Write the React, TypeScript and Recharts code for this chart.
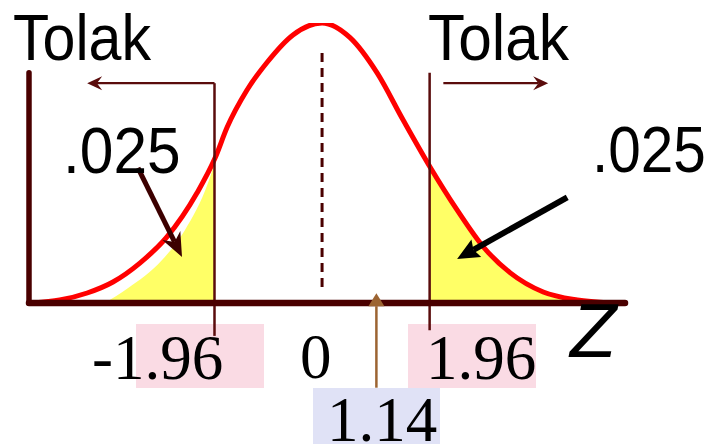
import React from 'react';
import { ComposedChart, Line, Area, XAxis, YAxis, ReferenceLine } from 'recharts';

// ---- data ----
const curveZ = [-5.27, -4.78, -4.28, -3.81, -3.32, -2.83, -2.28, -1.95, -1.73, -1.37, -1.0, -0.53, 0, 0.51, 1.0, 1.48, 1.97, 2.46, 2.94, 3.43, 4.03, 4.65, 5.25];
const curveDensity = [0, 0.0043, 0.0143, 0.03, 0.057, 0.094, 0.157, 0.207, 0.251, 0.304, 0.344, 0.383, 0.4, 0.379, 0.329, 0.261, 0.194, 0.133, 0.08, 0.043, 0.0157, 0.0043, 0];
const leftTailZ = [-3.96, -3.54, -2.92, -2.5, -2.08, -1.96];
const leftTailDensity = [0, 0.021, 0.061, 0.104, 0.171, 0.199];
const rightTailZ = [1.96, 2.46, 2.94, 3.43, 4.03, 4.65, 5.25];
const rightTailDensity = [0.195, 0.133, 0.08, 0.043, 0.0157, 0.0043, 0];
const criticalValues = [-1.96, 1.96];
const criticalLabels = ['-1.96', '1.96'];
const centerLabel = '0';
const testStatisticLabel = '1.14';
const testStatisticDrawnAt = 0.99;
const tailAreaLabel = '.025';
const rejectLabel = 'Tolak';
const axisLabel = 'Z';
const zDomain: [number, number] = [-5.34, 5.52];
const densityDomain: [number, number] = [0, 0.4];

const curveData = curveZ.map((z, i) => ({ z, d: curveDensity[i] }));
const leftTailData = leftTailZ.map((z, i) => ({ z, d: leftTailDensity[i] }));
const rightTailData = rightTailZ.map((z, i) => ({ z, d: rightTailDensity[i] }));

const MAROON = '#4a0000';
const THIN = '#5a0c0c';

type ArrowOpts = { color: string; width: number; headLen: number; headHalf: number; notch: number };
const arrowShape = (o: ArrowOpts) => (props: any) => {
  const { x1, y1, x2, y2 } = props;
  const dx = x2 - x1, dy = y2 - y1;
  const L = Math.hypot(dx, dy) || 1;
  const ux = dx / L, uy = dy / L;
  const px = -uy, py = ux;
  const bx = x2 - ux * o.headLen, by = y2 - uy * o.headLen;
  const nx = x2 - ux * o.headLen * (1 - o.notch), ny = y2 - uy * o.headLen * (1 - o.notch);
  const d = `M${x2},${y2} L${bx + px * o.headHalf},${by + py * o.headHalf} L${nx},${ny} L${bx - px * o.headHalf},${by - py * o.headHalf} Z`;
  return (
    <g>
      <line x1={x1} y1={y1} x2={nx} y2={ny} stroke={o.color} strokeWidth={o.width} />
      <path d={d} fill={o.color} stroke="none" />
    </g>
  );
};
const plainLine = (color: string, width: number, cap: string, dash?: string) => (props: any) => (
  <line x1={props.x1} y1={props.y1} x2={props.x2} y2={props.y2} stroke={color} strokeWidth={width} strokeLinecap={cap as any} strokeDasharray={dash} />
);

const sans = '"Liberation Sans", Arial, sans-serif';
const serif = '"Liberation Serif", "Times New Roman", serif';

export default function App() {
  return (
    <div style={{ position: 'absolute', left: 0, top: 0, width: 712, height: 444, background: '#fff', overflow: 'hidden' }}>
      <svg width={712} height={444} style={{ position: 'absolute', left: 0, top: 0 }}>
        <rect x={136} y={324} width={128} height={64} fill="#fadbe4" />
        <rect x={408} y={324} width={128} height={64} fill="#fadbe4" />
        <rect x={313} y={388} width={127} height={56} fill="#e0e2f6" />
      </svg>
      <div style={{ position: 'absolute', left: 0, top: 0 }}>
        <ComposedChart width={712} height={444} margin={{ top: 23, right: 87, bottom: 141, left: 29 }}>
          <XAxis type="number" dataKey="z" domain={zDomain} allowDataOverflow hide />
          <YAxis type="number" domain={densityDomain} allowDataOverflow hide />
          <Area data={leftTailData} dataKey="d" type="monotone" stroke="none" fill="#ffff66" fillOpacity={1} isAnimationActive={false} baseValue={0} />
          <Area data={rightTailData} dataKey="d" type="monotone" stroke="none" fill="#ffff66" fillOpacity={1} isAnimationActive={false} baseValue={0} />
          <ReferenceLine segment={[{ x: 0, y: 0.023 }, { x: 0, y: 0.359 }]} ifOverflow="visible" shape={plainLine(MAROON, 3, 'butt', '9 6')} />
          <Line data={curveData} dataKey="d" type="monotone" stroke="#ff0000" strokeWidth={5} dot={false} activeDot={false} isAnimationActive={false} />
          <ReferenceLine segment={[{ x: criticalValues[0], y: -0.047 }, { x: criticalValues[0], y: 0.314 }]} ifOverflow="visible" shape={plainLine(THIN, 2.5, 'butt')} />
          <ReferenceLine segment={[{ x: criticalValues[1], y: -0.039 }, { x: criticalValues[1], y: 0.329 }]} ifOverflow="visible" shape={plainLine(THIN, 2.5, 'butt')} />
          <ReferenceLine segment={[{ x: zDomain[0], y: 0 }, { x: zDomain[1], y: 0 }]} ifOverflow="visible" shape={plainLine(MAROON, 6.5, 'round')} />
          <ReferenceLine segment={[{ x: zDomain[0], y: 0 }, { x: zDomain[0], y: 0.329 }]} ifOverflow="visible" shape={plainLine(MAROON, 5.5, 'round')} />
          <ReferenceLine segment={[{ x: criticalValues[0], y: 0.314 }, { x: -4.28, y: 0.314 }]} ifOverflow="visible" shape={arrowShape({ color: THIN, width: 2.2, headLen: 15, headHalf: 7, notch: 0.35 })} />
          <ReferenceLine segment={[{ x: 2.21, y: 0.314 }, { x: 4.12, y: 0.314 }]} ifOverflow="visible" shape={arrowShape({ color: THIN, width: 2.2, headLen: 15, headHalf: 7, notch: 0.35 })} />
          <ReferenceLine segment={[{ x: -3.355, y: 0.193 }, { x: -2.552, y: 0.0657 }]} ifOverflow="visible" shape={arrowShape({ color: '#3c0000', width: 5, headLen: 24, headHalf: 10, notch: 0.3 })} />
          <ReferenceLine segment={[{ x: 4.467, y: 0.151 }, { x: 2.461, y: 0.0629 }]} ifOverflow="visible" shape={arrowShape({ color: '#000000', width: 6, headLen: 22, headHalf: 10, notch: 0.15 })} />
          <ReferenceLine segment={[{ x: testStatisticDrawnAt, y: -0.121 }, { x: testStatisticDrawnAt, y: 0.014 }]} ifOverflow="visible" shape={arrowShape({ color: '#9c6432', width: 2.5, headLen: 13, headHalf: 8, notch: 0 })} />
        </ComposedChart>
      </div>
      <svg width={712} height={444} style={{ position: 'absolute', left: 0, top: 0, pointerEvents: 'none' }}>
        <text transform="translate(13,60) scale(0.91,1)" fontFamily={sans} fontSize={65} fill="#000">{rejectLabel}</text>
        <text transform="translate(428,60) scale(0.93,1)" fontFamily={sans} fontSize={65} fill="#000">{rejectLabel}</text>
        <text transform="translate(63,173) scale(0.93,1)" fontFamily={sans} fontSize={65} fill="#000">{tailAreaLabel}</text>
        <text transform="translate(592,172) scale(0.9,1)" fontFamily={sans} fontSize={65} fill="#000">{tailAreaLabel}</text>
        <text x={92} y={379} fontFamily={serif} fontSize={63} fill="#000">{criticalLabels[0]}</text>
        <text x={426} y={379} fontFamily={serif} fontSize={63} fill="#000">{criticalLabels[1]}</text>
        <text x={300} y={378} fontFamily={serif} fontSize={63} fill="#000">{centerLabel}</text>
        <text x={327} y={441} fontFamily={serif} fontSize={63} fill="#000">{testStatisticLabel}</text>
        <text x={570} y={357} fontFamily={sans} fontStyle="italic" fontSize={76} fill="#000">{axisLabel}</text>
      </svg>
    </div>
  );
}
